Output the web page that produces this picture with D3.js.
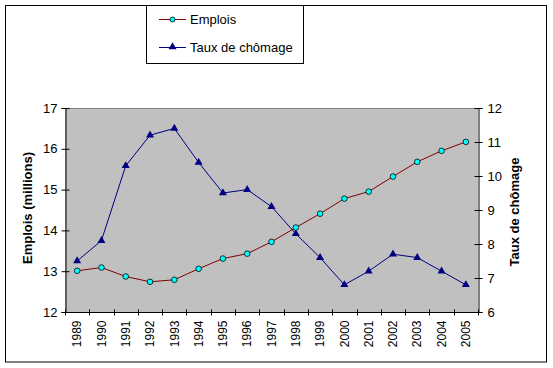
<!DOCTYPE html>
<html><head><meta charset="utf-8">
<script src="https://cdn.jsdelivr.net/npm/d3@7"></script>
<style>body{margin:0;background:#fff}svg{display:block}text{font-family:"Liberation Sans",Arial,sans-serif}</style>
</head><body><svg id="c" width="553" height="368"></svg>
<script>
const years = ["1989","1990","1991","1992","1993","1994","1995","1996","1997","1998","1999","2000","2001","2002","2003","2004","2005"];
const emplois = [13.01,13.09,12.87,12.74,12.79,13.06,13.31,13.43,13.72,14.07,14.41,14.78,14.95,15.32,15.68,15.95,16.17];
const chomage = [7.5,8.1,10.3,11.2,11.4,10.4,9.5,9.6,9.1,8.3,7.6,6.8,7.2,7.7,7.6,7.2,6.8];
const leftTicks = [12,13,14,15,16,17];
const rightTicks = [6,7,8,9,10,11,12];

const svg = d3.select("#c");
const L = 65, R = 478, T = 108, B = 312;

// outer frame
svg.append("rect").attr("x",5.5).attr("y",5.5).attr("width",541).attr("height",356.5)
  .attr("fill","#fff").attr("stroke","#000").attr("stroke-width",1);

const x = d3.scaleBand().domain(years).range([L,R]);
const yL = d3.scaleLinear().domain([12,17]).range([B,T]);
const yR = d3.scaleLinear().domain([6,12]).range([B,T]);

// plot area
svg.append("rect").attr("x",L).attr("y",T).attr("width",R-L).attr("height",B-T).attr("fill","#c0c0c0");
svg.append("line").attr("x1",L).attr("x2",R).attr("y1",T+0.5).attr("y2",T+0.5).attr("stroke","#808080");

// left axis
const gl = svg.append("g").attr("transform",`translate(${L+0.5},0)`)
  .call(d3.axisLeft(yL).tickValues(leftTicks).tickSize(4).tickPadding(4).tickFormat(d3.format("d")));
gl.selectAll(".tick line").attr("x1",-4).attr("x2",4);
// right axis
const gr = svg.append("g").attr("transform",`translate(${R+0.5},0)`)
  .call(d3.axisRight(yR).tickValues(rightTicks).tickSize(4).tickPadding(5).tickFormat(d3.format("d")));
gr.selectAll(".tick line").attr("x1",-4).attr("x2",4);
// bottom axis
const gb = svg.append("g").attr("transform",`translate(0,${B+0.5})`)
  .call(d3.axisBottom(x).tickSize(0).tickPadding(0));
gb.select(".domain").attr("d",`M${L},0H${R}`);
gb.selectAll(".tick text").attr("transform","rotate(-90)").attr("text-anchor","end")
  .attr("x",-8).attr("y",0).attr("dy","0.35em").attr("font-size",12);
// cross ticks at band boundaries
const bounds = years.map(d=>x(d)).concat([R]);
gb.selectAll("line.bt").data(bounds).enter().append("line").attr("class","bt")
  .attr("x1",d=>Math.round(d)+0.5).attr("x2",d=>Math.round(d)+0.5).attr("y1",-3).attr("y2",3).attr("stroke","#000");

[gl,gr,gb].forEach(g=>{
  g.selectAll(".domain").attr("stroke","#000");
  g.selectAll(".tick line").attr("stroke","#000");
  g.selectAll("text").attr("fill","#000").attr("font-family","Liberation Sans, Arial, sans-serif");
});
gl.selectAll(".tick text").attr("font-size",13);
gr.selectAll(".tick text").attr("font-size",13);

const cx = d => x(d) + x.bandwidth()/2;

// emplois line
svg.append("path").datum(emplois)
  .attr("d", d3.line().x((d,i)=>cx(years[i])).y(d=>yL(d)))
  .attr("fill","none").attr("stroke","#800000").attr("stroke-width",1);
// chomage line
svg.append("path").datum(chomage)
  .attr("d", d3.line().x((d,i)=>cx(years[i])).y(d=>yR(d)))
  .attr("fill","none").attr("stroke","#000080").attr("stroke-width",1);

const tri = d3.symbol().type(d3.symbolTriangle).size(28);
svg.selectAll("path.tri").data(chomage).enter().append("path").attr("class","tri")
  .attr("d",tri).attr("transform",(d,i)=>`translate(${cx(years[i])},${yR(d)})`).attr("fill","#000080");
svg.selectAll("circle.em").data(emplois).enter().append("circle").attr("class","em")
  .attr("cx",(d,i)=>cx(years[i])).attr("cy",d=>yL(d)).attr("r",2.8)
  .attr("fill","#00ffff").attr("stroke","#000").attr("stroke-width",0.8);

// axis titles
svg.append("text").attr("transform","translate(32,208) rotate(-90)").attr("text-anchor","middle")
  .attr("font-size",13).attr("font-weight","bold").text("Emplois (millions)");
svg.append("text").attr("transform","translate(519,212) rotate(-90)").attr("text-anchor","middle")
  .attr("font-size",13).attr("font-weight","bold").text("Taux de chômage");

// legend
svg.append("rect").attr("x",146.5).attr("y",5.5).attr("width",157).attr("height",58)
  .attr("fill","#fff").attr("stroke","#000");
const lg = svg.append("g");
lg.append("line").attr("x1",159).attr("x2",186).attr("y1",19.5).attr("y2",19.5).attr("stroke","#800000");
lg.append("circle").attr("cx",172.5).attr("cy",19.5).attr("r",2.5).attr("fill","#00ffff").attr("stroke","#000").attr("stroke-width",0.8);
lg.append("text").attr("x",190).attr("y",19.5).attr("dy","0.35em").attr("font-size",13).text("Emplois");
lg.append("line").attr("x1",159).attr("x2",186).attr("y1",47.5).attr("y2",47.5).attr("stroke","#000080");
lg.append("path").attr("d",tri).attr("transform","translate(172.5,47)").attr("fill","#000080");
lg.append("text").attr("x",190).attr("y",47.5).attr("dy","0.35em").attr("font-size",13).text("Taux de chômage");
</script></body></html>
